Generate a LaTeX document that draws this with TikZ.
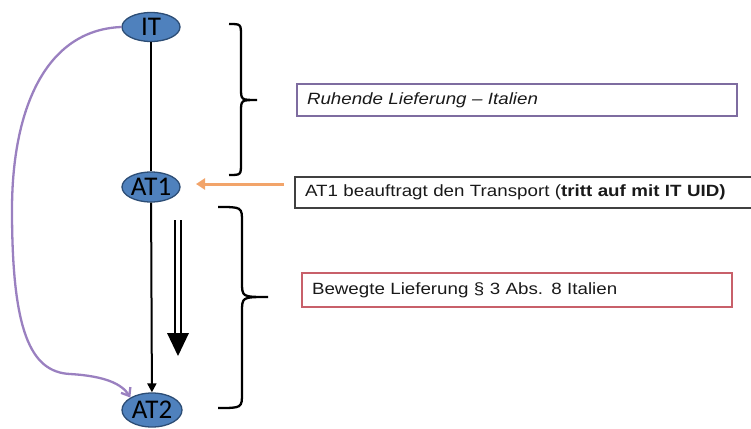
\documentclass[tikz,border=0pt]{standalone}
\usepackage{fontspec}
\setmainfont{Liberation Sans}[FakeStretch=1.15]
\newfontfamily\nodefont{Carlito}
\usetikzlibrary{arrows.meta,shapes.geometric}
\definecolor{nodeblue}{HTML}{4F81BD}
\definecolor{nodeborder}{HTML}{2C4D75}
\definecolor{boxpurple}{HTML}{7E6CA0}
\definecolor{boxred}{HTML}{C8606A}
\definecolor{curvepurple}{HTML}{9A80C0}
\definecolor{arroworange}{HTML}{F2A46A}
\tikzset{
  party/.style={ellipse, fill=nodeblue, draw=nodeborder, line width=1.3pt, inner sep=0pt,
    minimum width=58pt, minimum height=29pt, font=\nodefont\fontsize{27}{27}\selectfont, text=black},
  infobox/.style={rectangle, line width=1.9pt, inner xsep=10pt, inner ysep=0pt, align=left,
    font=\fontsize{16.3}{19}\selectfont, text=black!90},
  brace/.style={line width=2.3pt, black},
}
\begin{document}
\begin{tikzpicture}[x=1pt,y=-1pt]
\useasboundingbox (0,0) rectangle (751,428);
\clip (0,0) rectangle (751,428);
% parties
\node[party] (IT) at (151,27) {IT};
\node[party, minimum height=30pt] (AT1) at (151,187) {AT1};
\node[party, minimum width=60pt, minimum height=34pt] (AT2) at (152,410) {AT2};
% info boxes
\node[infobox, draw=boxpurple, minimum height=32pt, text width=420pt] (ruh) at (517,100)
  {\itshape Ruhende Lieferung -- Italien};
\node[infobox, draw=black!75, minimum height=31pt, text width=445pt] (trans) at (527.5,192.5)
  {AT1 beauftragt den Transport (\textbf{tritt auf mit IT UID)}};
\node[infobox, draw=boxred, minimum height=34pt, text width=410pt] (bew) at (517,290)
  {Bewegte Lieferung § 3 Abs. 8 Italien};
% vertical connectors
\draw[line width=2.3pt] (IT) -- (AT1);
\draw[line width=2pt, -{Triangle[length=9pt,width=9pt]}] (AT1) -- (AT2);
% purple curve
\draw[curvepurple, line width=2.3pt, -{Straight Barb[length=7pt,width=11pt]}]
  (IT.west) .. controls (45,30) and (12,110) .. (12,210)
  .. controls (12,330) and (30,372) .. (70,374)
  .. controls (105,376) and (122,384) .. (AT2.north west);
% orange arrow
\coordinate (oS) at (284,184);
\coordinate (oE) at (196,184);
\draw[arroworange, line width=3pt, -{Triangle[length=9pt,width=11pt]}] (oS) -- (oE);
% double arrow
\coordinate (dS) at (178,220);
\coordinate (dM) at (178,333);
\coordinate (dE) at (178,356);
\draw[line width=2pt, double=white, double distance=4pt] (dS) -- (dM);
\fill[black] ([xshift=-11pt]dM) -- ([xshift=11pt]dM) -- (dE) -- cycle;
% braces
\draw[brace] (229,24) .. controls (241,24) .. (241,36) -- (241,88)
  .. controls (241,100) .. (257,100) .. controls (241,100) .. (241,112)
  -- (241,163) .. controls (241,175) .. (229,175);
\draw[brace] (218,207) .. controls (242,207) .. (242,222) -- (242,282)
  .. controls (242,297) .. (268,297) .. controls (242,297) .. (242,312)
  -- (242,393) .. controls (242,408) .. (218,408);
\end{tikzpicture}
\end{document}
